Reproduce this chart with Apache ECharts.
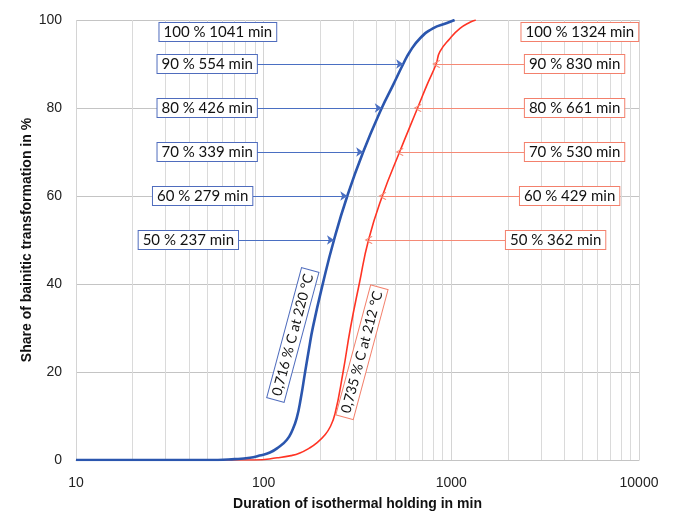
<!DOCTYPE html>
<html>
<head>
<meta charset="utf-8">
<script src="https://cdn.jsdelivr.net/npm/echarts@6/dist/echarts.min.js"></script>
<style>
  html, body { margin: 0; padding: 0; background: #fff; }
  #chart { width: 678px; height: 511px; }
</style>
</head>
<body>
<div id="chart"></div>
<script>
// curve samples: [minutes, share %]
const blueCurve = [
  [10, 0], [50, 0], [70, 0.2], [84.5, 0.5], [95, 1], [108, 1.7], [120, 2.9],
  [133, 4.6], [142, 6.7], [150, 9.5], [158, 14.2], [166, 19.8], [174, 25],
  [183, 30.2], [207, 40.2], [237, 50], [279, 60], [339, 70], [426, 80],
  [489, 85.2], [554, 90], [601, 92.8], [680, 95.8], [798, 98.1], [948, 99.3], [1041, 100]
]
const redCurve = [
  [10, 0], [90, 0], [118, 0.5], [140, 1], [156, 1.6], [175, 2.7], [192, 3.9],
  [210, 5.5], [226, 7.5], [240, 10.5], [265, 20], [290, 30],
  [323, 40], [362, 50], [429, 60], [530, 70], [661, 80], [741, 85.2],
  [830, 90], [869, 92.8], [984, 95.8], [1112, 98.1], [1257, 99.5], [1350, 100]
]

// annotated transformation levels and times
const levels = [50, 60, 70, 80, 90]
const blueTimes = [237, 279, 339, 426, 554]
const redTimes = [362, 429, 530, 661, 830]
const blueFull = 1041
const redFull = 1324

const blueName = '0,716 % C at 220 °C'
const redName = '0,735 % C at 212 °C'

const yTicks = [0, 20, 40, 60, 80, 100]
const minorX = [20, 30, 40, 50, 60, 70, 80, 90, 200, 300, 400, 500, 600, 700, 800, 900,
  2000, 3000, 4000, 5000, 6000, 7000, 8000, 9000]

// layout of the annotation boxes (data coords)
const blueBoxEnd = [73, 87, 92, 92, 92]
const redBoxStart = [1954, 2321, 2466, 2466, 2466]
const fullBoxY = 97.3
const blueFullBoxX = 57
const redFullBoxX = 4840
const blueTagPos = [143, 28.4]
const redTagPos = [334, 24.5]

const BLUE = '#2b56ae'
const RED = '#ff3424'
const BLUE_ARROW = '#4a6fc2'
const RED_ARROW = '#f58a76'
const BLUE_BOX = '#4f6cbd'
const RED_BOX = '#f3806c'
const LABEL_FONT = 'Lato, "Open Sans", sans-serif'
const AXIS_FONT = '"Liberation Sans", Arial, sans-serif'

const chart = echarts.init(document.getElementById('chart'), null, { renderer: 'canvas' })

function boxLabel(border) {
  return {
    show: true,
    color: '#111',
    fontFamily: LABEL_FONT,
    fontSize: 15,
    backgroundColor: '#fff',
    borderColor: border,
    borderWidth: 1,
    padding: [2, 4, 1, 4],
  }
}

function arrowLines(times, starts) {
  return levels.map((lvl, i) => [
    { name: `${lvl} % ${times[i]} min`, coord: [starts[i], lvl] },
    { coord: [times[i], lvl] },
  ])
}

const openArrow = 'path://M5,0 L10,9 L9,10 L5,2.6 L1,10 L0,9 Z'

const option = {
  animation: false,
  grid: { left: 76, right: 39, top: 20, bottom: 51, outerBoundsMode: 'none', containLabel: false },
  xAxis: {
    type: 'log',
    logBase: 10,
    min: 10,
    max: 10000,
    name: 'Duration of isothermal holding in min',
    nameLocation: 'middle',
    nameGap: 37,
    nameMoveOverlap: false,
    nameTextStyle: { fontFamily: AXIS_FONT, fontSize: 14, fontWeight: 'bold', color: '#111' },
    axisLine: { show: true, lineStyle: { color: '#c4c4c4' } },
    axisTick: { show: false },
    axisLabel: { fontFamily: AXIS_FONT, fontSize: 14, color: '#222', margin: 16, formatter: (v) => String(v) },
    splitLine: { show: true, lineStyle: { color: '#d4d4d4' } },
  },
  yAxis: {
    type: 'value',
    min: 0,
    max: 100,
    interval: 20,
    name: 'Share of bainitic transformation in %',
    nameLocation: 'middle',
    nameGap: 42,
    nameMoveOverlap: false,
    nameTextStyle: { fontFamily: AXIS_FONT, fontSize: 14, fontWeight: 'bold', color: '#111' },
    axisLine: { show: false },
    axisTick: { show: false },
    axisLabel: {
      fontFamily: AXIS_FONT, fontSize: 14, color: '#222', margin: 14,
      formatter: (v) => (yTicks.includes(v) ? String(v) : ''),
    },
    splitLine: { show: true, lineStyle: { color: '#c4c4c4' } },
  },
  series: [
    {
      // minor vertical gridlines of the log axis
      type: 'line',
      data: [],
      silent: true,
      markLine: {
        z: 1,
        silent: true,
        symbol: 'none',
        animation: false,
        label: { show: false },
        lineStyle: { color: '#dadada', type: 'solid', width: 1 },
        data: minorX.map((v) => ({ xAxis: v })),
      },
    },
    {
      name: blueName,
      type: 'line',
      data: blueCurve,
      showSymbol: false,
      smooth: 0.5,
      z: 4,
      lineStyle: { color: BLUE, width: 2.6 },
      itemStyle: { color: BLUE },
      markLine: {
        silent: true,
        animation: false,
        symbol: ['none', 'arrow'],
        symbolSize: 7,
        lineStyle: { color: BLUE_ARROW, type: 'solid', width: 1 },
        label: { ...boxLabel(BLUE_BOX), position: 'start', distance: 0, formatter: '{b}' },
        data: arrowLines(blueTimes, blueBoxEnd),
      },
      markPoint: {
        silent: true,
        animation: false,
        symbol: 'rect',
        symbolSize: 1,
        itemStyle: { color: 'rgba(0,0,0,0)' },
        data: [
          {
            name: `100 % ${blueFull} min`,
            coord: [blueFullBoxX, fullBoxY],
            label: { ...boxLabel(BLUE_BOX), position: 'inside', formatter: '{b}' },
          },
          {
            name: blueName,
            coord: blueTagPos,
            label: { ...boxLabel(BLUE_BOX), fontSize: 14, position: 'inside', rotate: 75, formatter: '{b}' },
          },
        ],
      },
    },
    {
      name: redName,
      type: 'line',
      data: redCurve,
      showSymbol: false,
      smooth: 0.5,
      z: 3,
      lineStyle: { color: RED, width: 1.6 },
      itemStyle: { color: RED },
      markLine: {
        silent: true,
        animation: false,
        symbol: ['none', openArrow],
        symbolSize: [8, 8],
        lineStyle: { color: RED_ARROW, type: 'solid', width: 1 },
        label: { ...boxLabel(RED_BOX), position: 'start', distance: 0, formatter: '{b}' },
        data: arrowLines(redTimes, redBoxStart),
      },
      markPoint: {
        silent: true,
        animation: false,
        symbol: 'rect',
        symbolSize: 1,
        itemStyle: { color: 'rgba(0,0,0,0)' },
        data: [
          {
            name: `100 % ${redFull} min`,
            coord: [redFullBoxX, fullBoxY],
            label: { ...boxLabel(RED_BOX), position: 'inside', formatter: '{b}' },
          },
          {
            name: redName,
            coord: redTagPos,
            label: { ...boxLabel(RED_BOX), fontSize: 14, position: 'inside', rotate: 75, formatter: '{b}' },
          },
        ],
      },
    },
  ],
}

chart.setOption(option)
</script>
</body>
</html>
